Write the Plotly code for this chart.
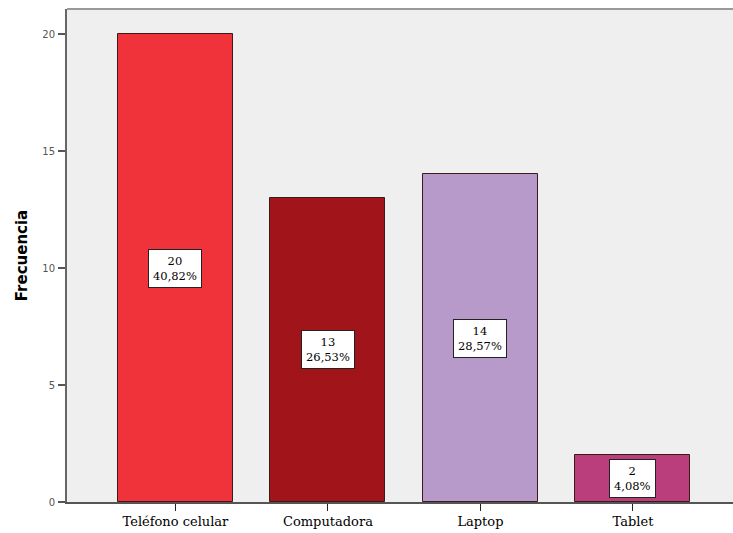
import plotly.graph_objects as go

categories = ["Teléfono celular", "Computadora", "Laptop", "Tablet"]
frecuencia = [20, 13, 14, 2]
porcentaje = ["40,82%", "26,53%", "28,57%", "4,08%"]
colores = ["#F0323A", "#A0141A", "#B89ACA", "#BA3D7C"]
y_ticks = [0, 5, 10, 15, 20]

fig = go.Figure()
fig.add_trace(go.Bar(
    x=list(range(len(categories))),
    y=frecuencia,
    width=0.754,
    marker=dict(color=colores, line=dict(color="#3a1a1a", width=1)),
    hoverinfo="skip",
))

for i, (v, p) in enumerate(zip(frecuencia, porcentaje)):
    fig.add_annotation(
        x=i, y=v / 2, text=f"{v}<br>{p}", showarrow=False,
        font=dict(family="DejaVu Serif", size=11.5, color="black"),
        bgcolor="white", bordercolor="#222", borderwidth=1, borderpad=4,
        align="center",
    )

fig.add_annotation(
    xref="paper", yref="paper", x=-0.068, y=0.5, xanchor="center", yanchor="middle",
    text="<b>Frecuencia</b>", textangle=-90, showarrow=False,
    font=dict(family="DejaVu Sans", size=15, color="black"),
)

fig.update_layout(
    width=733, height=533,
    margin=dict(l=67, r=0, t=9, b=31),
    paper_bgcolor="white", plot_bgcolor="#EFEFEF",
    showlegend=False, bargap=0,
)
fig.update_xaxes(
    range=[-0.711, 3.656], tickmode="array",
    tickvals=list(range(len(categories))), ticktext=categories,
    ticks="outside", ticklen=7, tickcolor="#222", tickwidth=1,
    showline=True, linecolor="#555", linewidth=1.5,
    showgrid=False, zeroline=False,
    tickfont=dict(family="DejaVu Serif", size=13, color="black"),
)
fig.update_yaxes(
    range=[0, 21.07], tickmode="array", tickvals=y_ticks,
    ticks="outside", ticklen=7, tickcolor="#555", tickwidth=1.5,
    showline=True, linecolor="#666", linewidth=2,
    showgrid=False, zeroline=False,
    tickfont=dict(family="DejaVu Sans", size=10, color="#555"),
    ticklabelstandoff=1,
)
fig.add_shape(type="line", xref="paper", yref="paper", x0=0, x1=1, y0=1, y1=1,
              line=dict(color="#999", width=2))

fig.write_html(
    "out.html",
    config={"displayModeBar": False},
    post_script="document.body.style.margin='0';document.body.style.overflow='hidden';",
)
